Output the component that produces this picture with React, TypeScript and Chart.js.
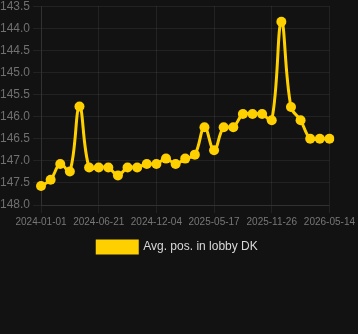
import React, { useEffect, useRef } from "react";
import { Chart, registerables } from "chart.js";

Chart.register(...registerables);

const labels: string[] = [
  "2024-01-01", "2024-01-30", "2024-02-28", "2024-03-28", "2024-04-25", "2024-05-24",
  "2024-06-21", "2024-07-19", "2024-08-16", "2024-09-13", "2024-10-11", "2024-11-07",
  "2024-12-04", "2025-01-01", "2025-01-28", "2025-02-24", "2025-03-23", "2025-04-20",
  "2025-05-17", "2025-06-18", "2025-07-20", "2025-08-21", "2025-09-22", "2025-10-24",
  "2025-11-26", "2025-12-24", "2026-01-21", "2026-02-18", "2026-03-18", "2026-04-15",
  "2026-05-14",
];

const avgPos: number[] = [
  147.57, 147.43, 147.07, 147.24, 145.77, 147.15, 147.15, 147.15, 147.33, 147.15,
  147.15, 147.07, 147.07, 146.95, 147.07, 146.95, 146.86, 146.24, 146.76, 146.24,
  146.24, 145.94, 145.94, 145.94, 146.08, 143.85, 145.78, 146.08, 146.5, 146.5,
  146.5,
];

const seriesLabel = "Avg. pos. in lobby DK";
const yMin = 143.5;
const yMax = 148.0;

const BG = "#121212";
const GOLD = "#FFD000";
const FONT = "Arial, 'Liberation Sans', sans-serif";

export default function App() {
  const ref = useRef<HTMLCanvasElement | null>(null);

  useEffect(() => {
    document.body.style.margin = "0";
    document.body.style.background = BG;
    if (!ref.current) return;
    const chart = new Chart(ref.current, {
      type: "line",
      data: {
        labels,
        datasets: [
          {
            label: seriesLabel,
            data: avgPos,
            borderColor: GOLD,
            backgroundColor: GOLD,
            borderWidth: 3,
            pointRadius: 5,
            pointHoverRadius: 5,
            pointBackgroundColor: GOLD,
            pointBorderColor: GOLD,
            pointBorderWidth: 0,
            tension: 0.4,
            fill: false,
          },
        ],
      },
      options: {
        animation: false,
        responsive: true,
        maintainAspectRatio: false,
        layout: { padding: { left: -3 } },
        plugins: {
          legend: {
            position: "bottom",
            labels: {
              color: "#d8d8d8",
              boxWidth: 40,
              boxHeight: 12,
              font: { family: FONT, size: 12 },
            },
          },
          tooltip: { enabled: false },
        },
        scales: {
          x: {
            grid: { color: "rgba(255,255,255,0.07)" },
            border: { color: "rgba(255,255,255,0.07)" },
            ticks: {
              color: "#777777",
              autoSkip: true,
              maxTicksLimit: 6,
              maxRotation: 0,
              font: { family: FONT, size: 10 },
            },
          },
          y: {
            reverse: true,
            min: yMin,
            max: yMax,
            grid: { color: "rgba(255,255,255,0.07)" },
            border: { color: "rgba(255,255,255,0.07)" },
            ticks: {
              stepSize: 0.5,
              color: "#707070",
              font: { family: FONT, size: 12 },
              callback: (v: any) => Number(v).toFixed(1),
            },
          },
        },
      },
    });
    return () => chart.destroy();
  }, []);

  return (
    <div style={{ width: 358, height: 334, background: BG, overflow: "hidden" }}>
      <div style={{ position: "relative", width: 358, height: 267, marginTop: -4 }}>
        <canvas ref={ref} />
      </div>
    </div>
  );
}
